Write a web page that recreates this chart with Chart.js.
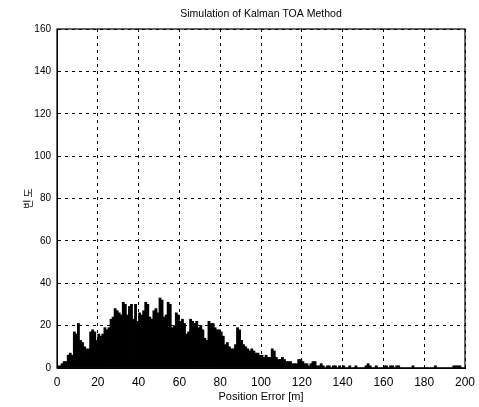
<!DOCTYPE html>
<html>
<head>
<meta charset="utf-8">
<script src="https://cdn.jsdelivr.net/npm/chart.js@4/dist/chart.umd.min.js"></script>
<style>
  html, body { margin: 0; padding: 0; background: #fff; }
  #wrap { width: 479px; height: 407px; position: relative; }
</style>
</head>
<body>
<div id="wrap"><canvas id="chart"></canvas></div>
<script>
// histogram of position error, 1 m bins starting at 0 m
const binWidth = 1;
const counts = [
  1, 1, 2, 3, 3, 6, 7, 6, 17, 16,
  21, 13, 12, 10, 9, 9, 17, 18, 17, 13,
  16, 15, 16, 19, 18, 19, 23, 24, 28, 27,
  26, 25, 31, 30, 25, 29, 30, 23, 30, 22,
  26, 25, 27, 31, 30, 24, 23, 27, 28, 26,
  33, 32, 24, 25, 31, 30, 19, 20, 26, 25,
  22, 23, 21, 16, 17, 23, 22, 21, 22, 19,
  20, 18, 14, 13, 22, 21, 21, 19, 18, 18,
  17, 15, 11, 12, 10, 9, 9, 11, 19, 18,
  13, 11, 10, 9, 8, 9, 8, 7, 7, 6,
  6, 5, 6, 5, 5, 9, 8, 5, 4, 4,
  5, 4, 3, 3, 3, 2, 2, 2, 4, 4,
  3, 2, 2, 1, 2, 3, 3, 1, 1, 2,
  1, 0, 1, 1, 0, 1, 1, 0, 1, 0,
  1, 0, 0, 1, 0, 0, 1, 0, 0, 0,
  0, 1, 2, 1, 0, 0, 1, 0, 0, 0,
  1, 1, 0, 1, 1, 0, 1, 1, 0, 0,
  0, 0, 0, 0, 1, 0, 0, 0, 0, 0,
  0, 0, 0, 0, 0, 1, 0, 0, 0, 0,
  0, 0, 0, 0, 1, 1, 1, 1, 0, 0
];
const xTicks = [0, 20, 40, 60, 80, 100, 120, 140, 160, 180, 200];
const yTicks = [0, 20, 40, 60, 80, 100, 120, 140, 160];

const titleText = 'Simulation of Kalman TOA Method';
const xLabel = 'Position Error [m]';
const yLabel = '빈 도';

const sans = "'Liberation Sans', Arial, Helvetica, sans-serif";

const points = counts.map((c, i) => ({ x: i * binWidth + binWidth / 2, y: c }));

// solid frame round the plot like the matlab axes box
const frameBox = {
  id: 'frameBox',
  afterDatasetsDraw(chart) {
    const { ctx, chartArea: a } = chart;
    ctx.save();
    ctx.strokeStyle = '#000';
    ctx.lineWidth = 1.2;
    ctx.strokeRect(a.left, a.top, a.right - a.left, a.bottom - a.top);
    ctx.restore();
  }
};

const ctx = document.getElementById('chart').getContext('2d');
new Chart(ctx, {
  type: 'bar',
  data: {
    datasets: [{
      data: points,
      backgroundColor: '#000',
      borderWidth: 0,
      barPercentage: 1,
      categoryPercentage: 1,
      inflateAmount: 0.4
    }]
  },
  options: {
    responsive: true,
    maintainAspectRatio: false,
    animation: false,
    layout: { padding: { left: 0, right: 14, top: 0, bottom: 0 } },
    scales: {
      x: {
        type: 'linear',
        offset: false,
        min: xTicks[0],
        max: xTicks[xTicks.length - 1],
        afterBuildTicks: s => { s.ticks = xTicks.map(v => ({ value: v })); },
        afterFit: s => { s.height = 39; s.paddingLeft = 0; s.paddingRight = 0; },
        grid: { color: '#000', lineWidth: 1, drawTicks: false, offset: false },
        border: { display: true, color: '#000', dash: [3, 4] },
        ticks: { color: '#000', padding: 7, maxRotation: 0, font: { family: sans, size: 12 } },
        title: { display: true, text: xLabel, color: '#000', padding: { top: 0, bottom: 3 }, font: { family: sans, size: 11 } }
      },
      y: {
        min: yTicks[0],
        max: yTicks[yTicks.length - 1],
        afterBuildTicks: s => { s.ticks = yTicks.map(v => ({ value: v })); },
        afterFit: s => { s.width = 57; s.paddingTop = 0; s.paddingBottom = 0; },
        grid: { color: '#000', lineWidth: 1, drawTicks: false },
        border: { display: true, color: '#000', dash: [3, 4] },
        ticks: { color: '#000', padding: 6, font: { family: sans, size: 10 } },
        title: { display: true, text: yLabel, color: '#000', padding: { top: 22, bottom: 0 }, font: { family: "'Noto Sans CJK KR', sans-serif", size: 10 } }
      }
    },
    plugins: {
      legend: { display: false },
      tooltip: { enabled: false },
      title: {
        display: true,
        text: titleText,
        color: '#000',
        fullSize: false,
        padding: { top: 8, bottom: 8.4 },
        font: { family: sans, size: 10.5, weight: 'normal' }
      }
    }
  },
  plugins: [frameBox]
});
</script>
</body>
</html>
